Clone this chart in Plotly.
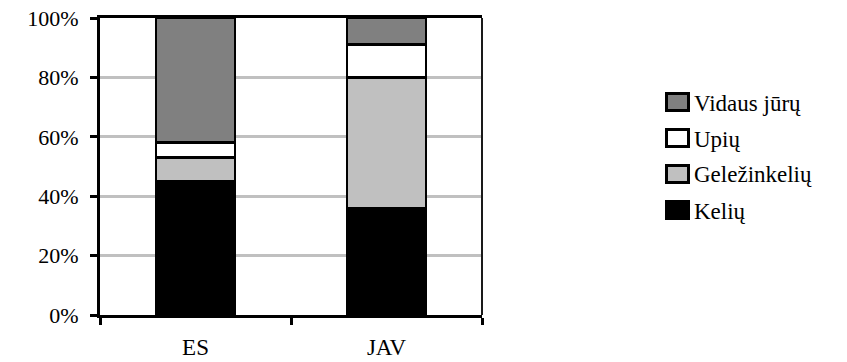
import plotly.graph_objects as go

# Freight transport modal split, % of total
regions = ["ES", "JAV"]
keliu = [45, 36]          # Kelių
gelezinkeliu = [8, 44]    # Geležinkelių
upiu = [5, 11]            # Upių
vidaus_juru = [42, 9]     # Vidaus jūrų

y_ticks = [0, 20, 40, 60, 80, 100]
y_ticktext = ["0%", "20%", "40%", "60%", "80%", "100%"]

# name, values, fill colour (stacked bottom to top)
series = [
    ("Kelių", keliu, "#000000"),
    ("Geležinkelių", gelezinkeliu, "#C0C0C0"),
    ("Upių", upiu, "#FFFFFF"),
    ("Vidaus jūrų", vidaus_juru, "#808080"),
]

FONT = "Times New Roman, Liberation Serif, DejaVu Serif, serif"

W, H = 847, 362
M_L, M_R, M_T, M_B = 100, 365, 18, 47
PW, PH = W - M_L - M_R, H - M_T - M_B


def px_x(px):
    """Pixel column -> paper x."""
    return (px - M_L) / PW


def px_y(py):
    """Pixel row -> paper y."""
    return (H - M_B - py) / PH


fig = go.Figure()
for name, vals, color in series:
    fig.add_trace(go.Bar(
        name=name,
        x=regions,
        y=vals,
        marker=dict(color=color, line=dict(color="#000000", width=2.5)),
        hoverinfo="x+y+name",
        showlegend=False,
    ))

# Legend drawn as boxed swatches, top entry = top of the stack
shapes, annotations = [], []
legend_top = 102
legend_step = 36
for i, (name, _, color) in enumerate(reversed(series)):
    cy = legend_top + i * legend_step
    shapes.append(dict(
        type="rect", xref="paper", yref="paper",
        x0=px_x(666.5), x1=px_x(688.5), y0=px_y(cy + 8.5), y1=px_y(cy - 8.5),
        fillcolor=color, line=dict(color="#000000", width=3), layer="above",
    ))
    annotations.append(dict(
        text=name, xref="paper", yref="paper",
        x=px_x(692), y=px_y(cy + 1), xanchor="left", yanchor="middle",
        showarrow=False, font=dict(family=FONT, size=23, color="#000000"),
    ))

# thinner right-hand frame edge
shapes.append(dict(
    type="line", xref="paper", yref="paper", x0=1, x1=1, y0=0, y1=1,
    line=dict(color="#1A1A1A", width=2), layer="above",
))

fig.update_layout(
    width=W,
    height=H,
    barmode="stack",
    bargap=0.585,
    plot_bgcolor="#FFFFFF",
    paper_bgcolor="#FFFFFF",
    margin=dict(l=M_L, r=M_R, t=M_T, b=M_B, autoexpand=False),
    font=dict(family=FONT, color="#000000", size=19),
    shapes=shapes,
    annotations=annotations,
    showlegend=False,
)

fig.update_xaxes(
    type="category",
    automargin=False,
    showline=True, linecolor="#000000", linewidth=3, mirror=True,
    ticks="outside", tickson="boundaries", ticklen=7, tickwidth=3, tickcolor="#000000",
    ticklabelstandoff=9,
    tickfont=dict(family=FONT, size=23),
    showgrid=False,
)
fig.update_yaxes(
    range=[0, 100],
    automargin=False,
    tickvals=y_ticks, ticktext=y_ticktext,
    showline=True, linecolor="#000000", linewidth=3, mirror=False,
    ticks="outside", ticklen=7, tickwidth=3, tickcolor="#000000",
    ticklabelstandoff=7,
    tickfont=dict(family=FONT, size=22),
    showgrid=True, gridcolor="#C0C0C0", gridwidth=2.5,
    zeroline=False,
)

fig.write_html("out.html")
